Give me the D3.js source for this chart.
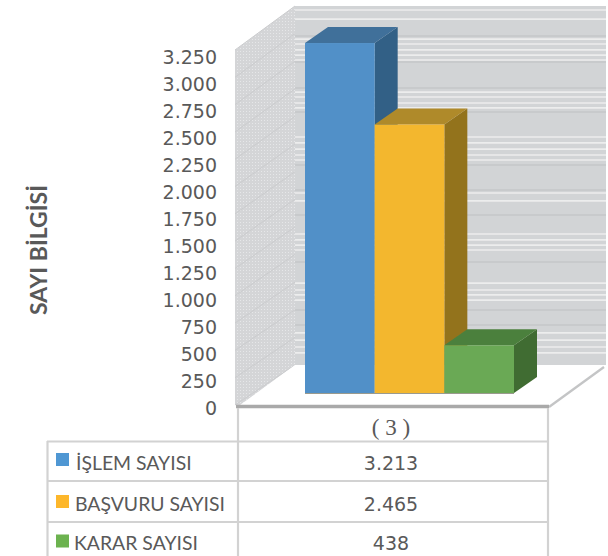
<!DOCTYPE html>
<html><head><meta charset="utf-8">
<script src="https://cdn.jsdelivr.net/npm/d3@7"></script>
<style>html,body{margin:0;padding:0;background:#fff;overflow:hidden}svg{display:block}</style>
</head><body><div id="chart"></div>
<script>
const seriesNames = ["İŞLEM SAYISI", "BAŞVURU SAYISI", "KARAR SAYISI"];
const seriesValues = [3213, 2465, 438];
const valueLabels = ["3.213", "2.465", "438"];
const categoryLabel = "( 3 )";
const yTicks = [0,250,500,750,1000,1250,1500,1750,2000,2250,2500,2750,3000,3250];
const yTickLabels = ["0","250","500","750","1.000","1.250","1.500","1.750","2.000","2.250","2.500","2.750","3.000","3.250"];
const yTitle = "SAYI BİLGİSİ";
const frontColors = ["#5190C8", "#F3B72D", "#6BA955"];
const swatchColors = ["#4F97D3", "#FDB72B", "#6CB24F"];
const topColors = ["#41709A", "#AF8A2A", "#4C803C"];
const sideColors = ["#316086", "#93731F", "#416C32"];
const wallStripes = [3214,3132,2951,2906,2852,2806,2761,2471,2426,2372,2327,2064,2010,1955,1901,1856,1557,1485,1186,1132,1086,1041,742,679,634,588,290,226,163,109];
const wallBands = [2978,2743,2508,2290,1811,1584,1358,932,498,362];

const W = 608, H = 556;
const svg = d3.select("#chart").append("svg").attr("width", W).attr("height", H);
const defs = svg.append("defs");
const pat = defs.append("pattern").attr("id","dots").attr("width",3).attr("height",3).attr("patternUnits","userSpaceOnUse");
pat.append("rect").attr("width",3).attr("height",3).attr("fill","#d4d5d7");
pat.append("rect").attr("x",0).attr("y",0).attr("width",1).attr("height",1).attr("fill","#e6e7e9");
defs.append("filter").attr("id","soft").attr("x","-5%").attr("y","-5%").attr("width","110%").attr("height","110%")
  .append("feGaussianBlur").attr("stdDeviation",0.6);
defs.append("filter").attr("id","soft2").attr("x","-5%").attr("y","-5%").attr("width","110%").attr("height","110%")
  .append("feGaussianBlur").attr("stdDeviation",0.45);

const yFront = d3.scaleLinear().domain([0,3250]).range([405,50]);
const yBack = d3.scaleLinear().domain([0,3250]).range([365,6]);
const yBar = d3.scaleLinear().domain([0,3250]).range([393,39]);
const yLabel = d3.scaleLinear().domain([0,3250]).range([415,64]);
const xBar = d3.scaleBand().domain(seriesNames).range([305,514]);
const xL = 235, xB = 295, xR = 606;
const depthX = 23, depthY = 16;
const pts = a => a.map(p => p.join(",")).join(" ");

const walls = svg.append("g").attr("filter","url(#soft)");
walls.append("rect").attr("x",xB).attr("y",yBack(3250)).attr("width",xR-xB).attr("height",yBack(0)-yBack(3250)).attr("fill","#d2d4d6");
walls.append("g").selectAll("line").data(wallBands).join("line")
  .attr("x1",xB).attr("x2",xR).attr("y1",d=>yBack(d)).attr("y2",d=>yBack(d))
  .attr("stroke","#c8cacc").attr("stroke-width",2);
walls.append("g").selectAll("line").data(wallStripes).join("line")
  .attr("x1",xB-3).attr("x2",xR).attr("y1",d=>yBack(d)).attr("y2",d=>yBack(d))
  .attr("stroke","#eceded").attr("stroke-width",1.7);
walls.append("polygon").attr("points",pts([[xL,yFront(3250)],[xB,yBack(3250)],[xB,yBack(0)],[240,405],[xL,405]])).attr("fill","url(#dots)");
walls.append("g").selectAll("line").data(yTicks).join("line")
  .attr("x1",xL).attr("x2",xB).attr("y1",d=>yFront(d)).attr("y2",d=>yBack(d))
  .attr("stroke","#cbccce").attr("stroke-width",1);
walls.append("polygon").attr("points",pts([[240,406],[549,406],[606,365],[xB,365]])).attr("fill","#fff");
walls.append("line").attr("x1",549).attr("y1",407).attr("x2",604).attr("y2",367).attr("stroke","#c4c5c6").attr("stroke-width",2.4);
walls.append("line").attr("x1",236).attr("y1",406.5).attr("x2",549).attr("y2",406.5).attr("stroke","#a9a9a9").attr("stroke-width",3.4);

const bars = svg.append("g").attr("filter","url(#soft2)");
seriesNames.forEach((name,i) => {
  const x0 = xBar(name), x1 = x0 + xBar.bandwidth();
  const yT = yBar(seriesValues[i]), yB = yBar(0);
  bars.append("polygon").attr("points",pts([[x1,yT],[x1+depthX,yT-depthY],[x1+depthX,yB-depthY],[x1,yB]])).attr("fill",sideColors[i]);
  bars.append("polygon").attr("points",pts([[x0,yT],[x0+depthX,yT-depthY],[x1+depthX,yT-depthY],[x1,yT]])).attr("fill",topColors[i]);
  bars.append("rect").attr("x",x0).attr("y",yT).attr("width",x1-x0).attr("height",yB-yT).attr("fill",frontColors[i]);
});
bars.append("line").attr("x1",305).attr("x2",514).attr("y1",393.5).attr("y2",393.5).attr("stroke","#9a9a8e").attr("stroke-width",1);

const tickG = svg.append("g").attr("font-family","'DejaVu Sans'").attr("font-size",19).attr("fill","#595959").attr("text-anchor","end");
tickG.selectAll("text").data(yTicks).join("text")
  .attr("x",217).attr("y",d=>yLabel(d)).text((d,i)=>yTickLabels[i]);

svg.append("text").attr("transform","translate(47,250) rotate(-90)").attr("text-anchor","middle")
  .attr("font-family","Lato").attr("font-weight",700).attr("font-size",23).attr("fill","#595959").text(yTitle);

const tbl = svg.append("g").attr("stroke","#d2d2d2").attr("stroke-width",2.2);
[[238,408,238,556],[548,408,548,556],[47.5,441,47.5,556],[47,441.5,548,441.5],[47,481,548,481],[47,522,548,522]].forEach(l =>
  tbl.append("line").attr("x1",l[0]).attr("y1",l[1]).attr("x2",l[2]).attr("y2",l[3]));

svg.append("text").attr("x",391).attr("y",435).attr("text-anchor","middle").attr("font-family","'Liberation Serif'")
  .attr("font-size",23).attr("fill","#595959").text(categoryLabel);

const swatchY = [459.5, 501.5, 541];
const rowBase = [470, 510.5, 550];
const rowTextX = [76, 75, 74];
seriesNames.forEach((name,i) => {
  svg.append("rect").attr("x",56).attr("y",swatchY[i]-6.5).attr("width",13).attr("height",13).attr("fill",swatchColors[i]);
  svg.append("text").attr("x",rowTextX[i]).attr("y",rowBase[i]).attr("font-family","Lato").attr("font-size",19.4).attr("fill","#595959").text(name);
  svg.append("text").attr("x",391).attr("y",rowBase[i]).attr("text-anchor","middle").attr("font-family","'DejaVu Sans'").attr("font-size",19).attr("fill","#595959").text(valueLabels[i]);
});
</script></body></html>
